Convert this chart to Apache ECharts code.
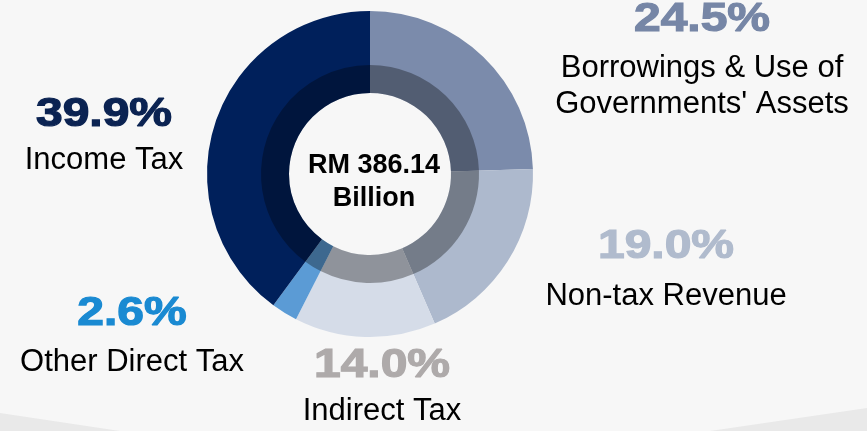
<!DOCTYPE html>
<html>
<head>
<meta charset="utf-8">
<script src="https://cdn.jsdelivr.net/npm/echarts@6/dist/echarts.min.js"></script>
<style>
  html, body { margin: 0; padding: 0; background: #f7f7f7; }
  #main { width: 867px; height: 431px; }
</style>
</head>
<body>
<div id="main"></div>
<script>
// revenue sources, clockwise from 12 o'clock
var categories = ['Borrowings & Use of\nGovernments\' Assets', 'Non-tax Revenue', 'Indirect Tax', 'Other Direct Tax', 'Income Tax'];
var shares = [24.5, 19.0, 14.0, 2.6, 39.9];
var totalText = ['RM 386.14', 'Billion'];

var sliceColors = ['#7b8bab', '#adb9cd', '#d5dce8', '#5b9bd5', '#00205b'];
var pctColors = ['#7686a6', '#b0bbcd', '#aeaaaa', '#1a8ad2', '#0b2352'];
// [x, pct y, name y]
var labelPos = [
    [702, 20, 86],
    [666, 247, 296],
    [382, 366, 411],
    [132, 314, 362],
    [104, 115, 160]
];

var myChart = echarts.init(document.getElementById('main'));

var pieData = categories.map(function (c, i) {
    return { name: c, value: shares[i], itemStyle: { color: sliceColors[i] } };
});

var graphics = [
    // floor shading at the bottom
    { type: 'polygon', shape: { points: [[0, 413], [120, 431], [0, 431]] }, style: { fill: '#e9e9e9' }, z: 0 },
    { type: 'polygon', shape: { points: [[867, 408], [710, 431], [867, 431]] }, style: { fill: '#e9e9e9' }, z: 0 }
];

categories.forEach(function (c, i) {
    var p = labelPos[i];
    graphics.push({
        type: 'text', x: p[0], y: p[1], scaleX: 1.2,
        style: {
            x: 0, y: 0, text: shares[i].toFixed(1) + '%',
            font: 'bold 40px "Liberation Sans", Arial, sans-serif',
            fill: pctColors[i], stroke: pctColors[i], lineWidth: 1.2,
            align: 'center', verticalAlign: 'middle'
        }
    });
    graphics.push({
        type: 'text', x: p[0], y: p[2],
        style: {
            x: 0, y: 0, text: c, lineHeight: 36,
            font: '31px "Liberation Sans", Arial, sans-serif',
            fill: '#000', align: 'center', verticalAlign: 'middle'
        }
    });
});

graphics.push({
    type: 'text', x: 374, y: 182,
    style: {
        x: 0, y: 0, text: totalText.join('\n'), lineHeight: 33,
        font: 'bold 27px "Liberation Sans", Arial, sans-serif',
        fill: '#000', align: 'center', verticalAlign: 'middle'
    }
});

option = {
    backgroundColor: '#f7f7f7',
    animation: false,
    graphic: graphics,
    series: [{
        type: 'pie',
        center: [370, 174],
        radius: [81, 163],
        startAngle: 90,
        label: { show: false },
        labelLine: { show: false },
        silent: true,
        data: pieData
    }, {
        // darker inner band
        type: 'pie',
        center: [370, 174],
        radius: [81, 109],
        startAngle: 90,
        label: { show: false },
        labelLine: { show: false },
        silent: true,
        itemStyle: { color: 'rgba(0,0,0,0.33)' },
        data: shares.map(function (v) { return { value: v }; })
    }]
};

myChart.setOption(option);
</script>
</body>
</html>
